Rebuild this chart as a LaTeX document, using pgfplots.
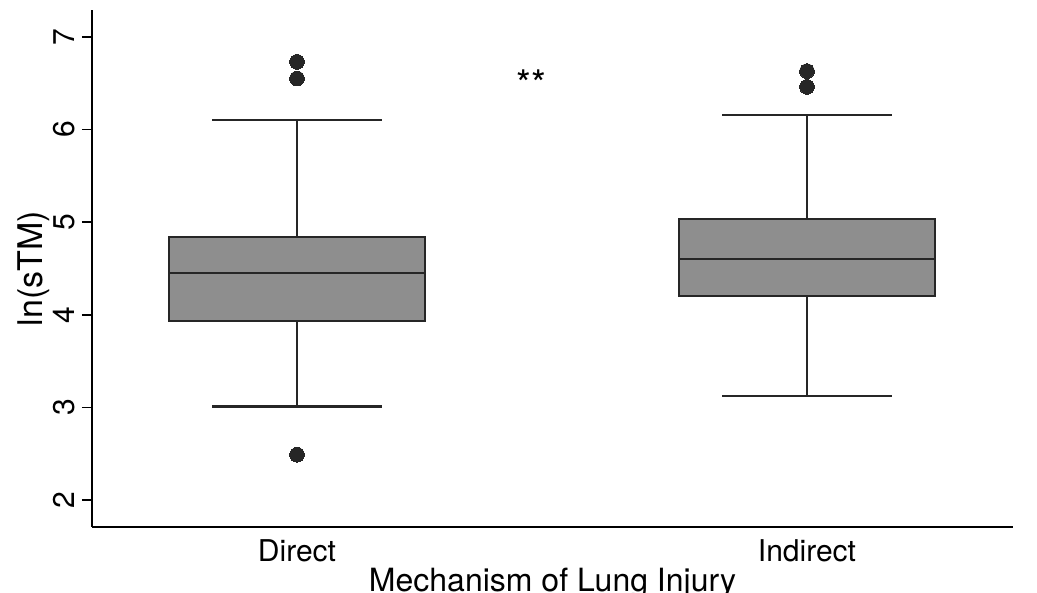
\documentclass[border=0pt]{standalone}
\usepackage{fontspec}
\setmainfont{TeX Gyre Heros}
\usepackage{pgfplots}
\pgfplotsset{compat=1.18}
\usepgfplotslibrary{statistics}
\definecolor{boxfill}{HTML}{8E8E8E}
\definecolor{boxline}{HTML}{262626}
\begin{document}
\begin{tikzpicture}
\begin{axis}[
  scale only axis, width=460.5pt, height=258.5pt,
  xmin=0.598, xmax=2.404, ymin=1.71, ymax=7.29,
  axis x line*=bottom, axis y line*=left,
  axis line style={line width=0.9pt, black},
  xtick={1,2}, xticklabels={Direct,Indirect},
  ytick={2,3,4,5,6,7},
  tick style={line width=0.9pt, black},
  major tick length=5pt,
  tick align=outside,
  xtick style={draw=none},
  /pgf/number format/assume math mode=true,
  ticklabel style={font=\fontsize{15}{15}\selectfont},
  yticklabel style={rotate=90, anchor=south},
  xticklabel style={anchor=north, yshift=2pt},
  xlabel={Mechanism of Lung Injury},
  ylabel={ln(sTM)},
  label style={font=\fontsize{16}{16}\selectfont},
  xlabel style={at={(rel axis cs:0.5,0)}, anchor=north, yshift=-17pt},
  ylabel style={at={(ticklabel cs:0.5,-5pt)}, font=\fontsize{17}{17}\selectfont},
  clip=false,
  boxplot/draw direction=y,
]
\addplot+[boxplot prepared={draw position=1, median=4.45, lower quartile=3.93,
  upper quartile=4.84, lower whisker=3.01, upper whisker=6.10,
  box extend=0.502, whisker extend=0.333},
  fill=boxfill, draw=boxline, line width=1.1pt, solid, mark=none]
  coordinates {};
\addplot+[boxplot prepared={draw position=2, median=4.60, lower quartile=4.20,
  upper quartile=5.03, lower whisker=3.12, upper whisker=6.16,
  box extend=0.502, whisker extend=0.333},
  fill=boxfill, draw=boxline, line width=1.1pt, solid, mark=none]
  coordinates {};
\addplot[only marks, mark=*, mark size=3.7pt, mark options={fill=boxline, draw=boxline, line width=0pt}]
  coordinates {(1,6.73) (1,6.55) (1,2.49) (2,6.63) (2,6.46)};
\node[font=\fontsize{19}{19}\selectfont] at (axis cs:1.459,6.5) {**};
\coordinate (sw) at (rel axis cs:0,0);
\coordinate (ne) at (rel axis cs:1,1);
\end{axis}
\pgfresetboundingbox
\useasboundingbox ([xshift=-46pt,yshift=-33pt]sw) rectangle ([xshift=12pt,yshift=5pt]ne);
\end{tikzpicture}
\end{document}
